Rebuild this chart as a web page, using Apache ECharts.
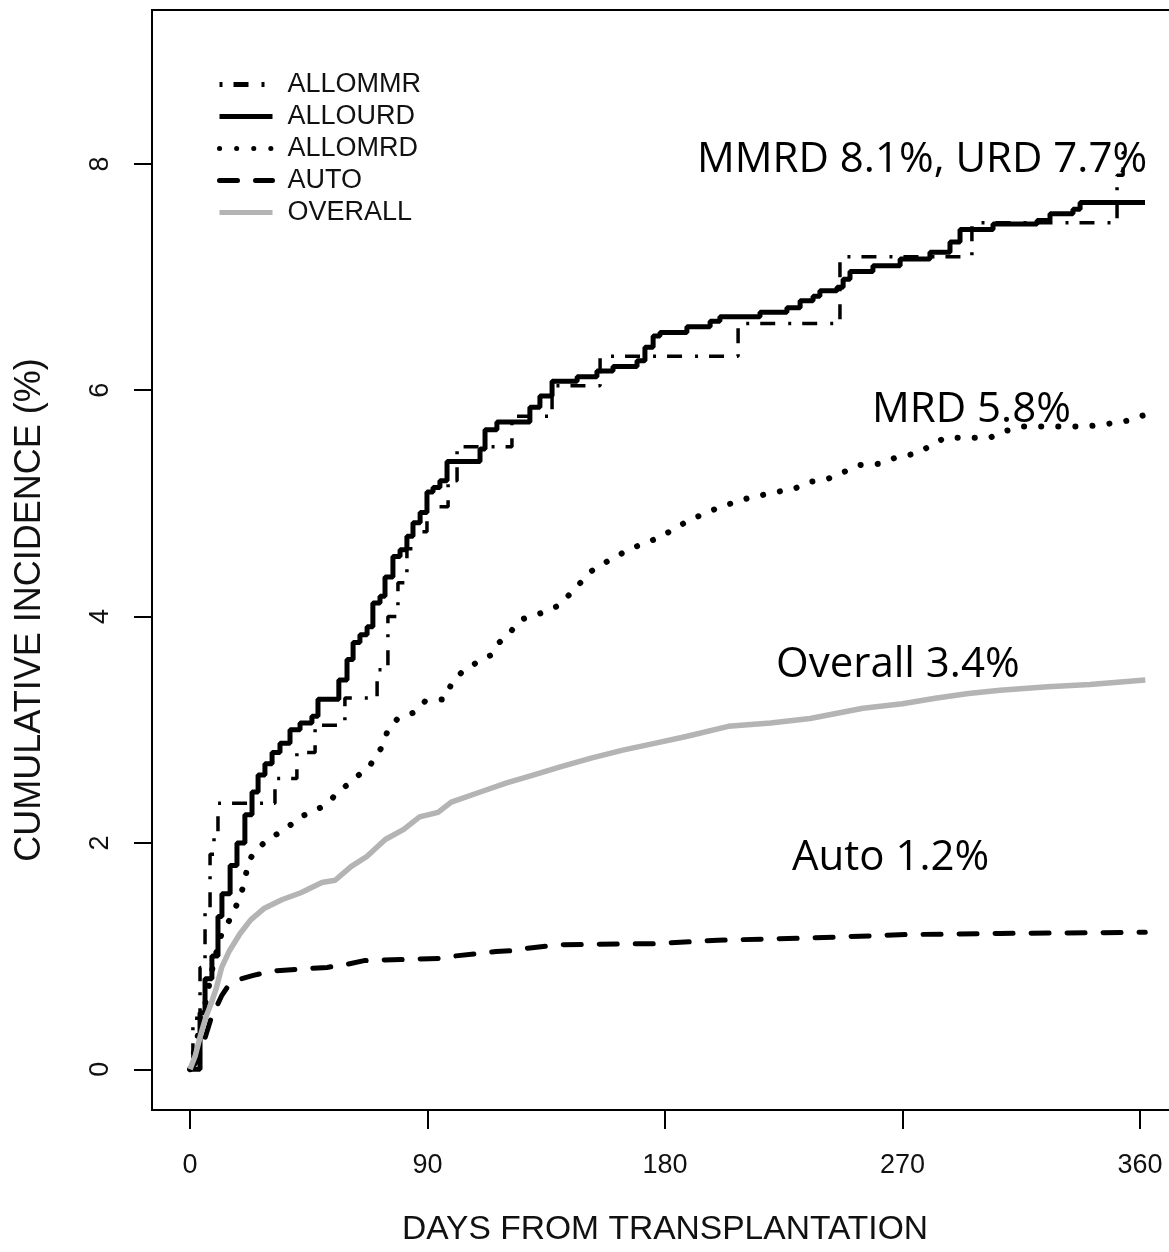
<!DOCTYPE html>
<html>
<head>
    <meta charset="utf-8">
    <title>Cumulative incidence</title>
    <script src="https://cdn.jsdelivr.net/npm/echarts@6/dist/echarts.min.js"></script>
    <style>
        html, body { margin: 0; padding: 0; background: #fff; }
    </style>
</head>
<body>
    <div id="main" style="width: 1169px;height:1252px;"></div>
    <script type="text/javascript">
        // tick positions
        var xTicks = [0, 90, 180, 270, 360];
        var yTicks = [0, 2, 4, 6, 8];

        // ALLOMMR (step)
        var mmrDays = [0, 1.1, 3.8, 5.7, 7.6, 9.1, 10.6, 32.2, 40.5, 47.4, 58.7, 70.9, 75.0, 78.8, 82.2, 84.5, 89.8, 97.8, 101.2, 122.0, 137.2, 155.4, 207.7, 246.3, 296.3, 351.3, 353.6, 356];
        var mmrCI   = [0, 0.45, 0.9, 1.4, 1.9, 2.1, 2.35, 2.57, 2.8, 3.04, 3.28, 3.53, 4.0, 4.3, 4.6, 4.75, 4.97, 5.2, 5.5, 5.77, 6.04, 6.3, 6.59, 7.18, 7.48, 7.9, 8.1, 8.1];

        // ALLOURD (step)
        var urdDays = [0, 3.8, 5.7, 8.3, 10.6, 12.1, 15.2, 17.8, 20.8, 23.5, 25.8, 28.4, 31.1, 34.1, 37.9, 41.7, 46.2, 48.5, 56.4, 59.5, 61.8, 64.4, 67.1, 69.3, 72.0, 73.9, 76.9, 79.6, 82.2, 84.5, 87.2, 89.8, 92.1, 94.7, 97.4, 109.9, 111.8, 116.3, 128.8, 132.6, 137.2, 146.7, 154.2, 160.3, 169.4, 172.4, 175.5, 178.1, 188.3, 197.1, 200.8, 216.0, 226.2, 231.2, 236.1, 238.7, 245.2, 247.5, 250.1, 258.8, 269.1, 280.4, 288.0, 291.8, 304.3, 321.0, 325.9, 334.6, 337.3, 361.9];
        var urdCI   = [0, 0.5, 0.8, 1.0, 1.35, 1.55, 1.8, 2.0, 2.25, 2.45, 2.6, 2.7, 2.8, 2.88, 3.0, 3.06, 3.12, 3.27, 3.44, 3.62, 3.77, 3.84, 3.91, 4.12, 4.18, 4.35, 4.53, 4.59, 4.71, 4.83, 4.92, 5.1, 5.14, 5.2, 5.37, 5.48, 5.65, 5.72, 5.85, 5.95, 6.08, 6.12, 6.17, 6.21, 6.26, 6.38, 6.48, 6.51, 6.56, 6.61, 6.65, 6.69, 6.73, 6.79, 6.83, 6.88, 6.91, 6.98, 7.05, 7.1, 7.16, 7.22, 7.31, 7.42, 7.47, 7.5, 7.56, 7.6, 7.66, 7.66];

        // ALLOMRD
        var mrdDays = [0, 3, 6, 9, 12, 16.5, 20, 22.4, 26, 30.7, 35.6, 41.7, 47, 52.3, 56, 60.6, 64, 67.8, 72.8, 75, 78.4, 85.6, 89, 96.6, 99.3, 103.5, 108.4, 114.1, 117.1, 121, 125, 133, 140, 146, 152, 159, 167, 178, 189, 201, 212, 222, 229, 235, 242, 248, 254, 261, 268, 275, 280, 286, 303, 309, 316, 340, 347, 355, 361.6];
        var mrdCI   = [0, 0.3, 0.6, 0.95, 1.2, 1.38, 1.6, 1.85, 1.96, 2.05, 2.11, 2.23, 2.28, 2.35, 2.45, 2.53, 2.6, 2.67, 2.85, 3.0, 3.09, 3.16, 3.25, 3.27, 3.42, 3.52, 3.59, 3.66, 3.77, 3.85, 3.97, 4.03, 4.1, 4.25, 4.4, 4.5, 4.6, 4.7, 4.85, 4.97, 5.05, 5.1, 5.13, 5.19, 5.22, 5.28, 5.34, 5.35, 5.41, 5.44, 5.5, 5.58, 5.58, 5.64, 5.68, 5.68, 5.7, 5.73, 5.78];

        // AUTO
        var autoDays = [0, 2, 4, 6, 8, 10, 12, 14, 18, 24, 32, 45, 52, 60, 66, 80, 95, 100, 108, 116, 124, 128, 140, 176, 200, 235, 271, 307, 362];
        var autoCI   = [0, 0.05, 0.15, 0.3, 0.45, 0.55, 0.65, 0.72, 0.79, 0.83, 0.87, 0.89, 0.9, 0.93, 0.96, 0.97, 0.98, 1.0, 1.02, 1.04, 1.05, 1.07, 1.1, 1.11, 1.14, 1.16, 1.19, 1.2, 1.21];

        // OVERALL
        var allDays = [0, 2, 4, 6, 8, 10, 12, 15, 19, 23, 28, 35, 42, 50, 55, 61, 67, 74, 81, 87, 94, 99, 110, 120, 130, 140, 152, 164, 176, 188, 204, 220, 235, 255, 270, 283, 295, 307, 325, 341, 362];
        var allCI   = [0, 0.12, 0.3, 0.46, 0.58, 0.72, 0.9, 1.05, 1.2, 1.32, 1.42, 1.5, 1.56, 1.65, 1.67, 1.79, 1.88, 2.03, 2.12, 2.23, 2.27, 2.36, 2.45, 2.53, 2.6, 2.67, 2.75, 2.82, 2.88, 2.94, 3.03, 3.06, 3.1, 3.19, 3.23, 3.28, 3.32, 3.35, 3.38, 3.4, 3.44];

        function zip(xs, ys) {
            return xs.map(function (x, i) { return [x, ys[i]]; });
        }

        var myChart = echarts.init(document.getElementById('main'), null, { renderer: 'canvas' });

        var labelFont = 'Liberation Sans';
        var noteFont = '42px "Open Sans"';

        var option = {
            backgroundColor: '#fff',
            animation: false,
            grid: {
                left: 152,
                top: 10,
                width: 1026,
                height: 1100,
                show: true,
                borderColor: '#000',
                borderWidth: 2,
                containLabel: false,
                outerBoundsMode: 'none'
            },
            legend: {
                orient: 'vertical',
                left: 212,
                top: 66,
                itemWidth: 53,
                itemHeight: 12,
                itemGap: 5,
                data: ['ALLOMMR', 'ALLOURD', 'ALLOMRD', 'AUTO', 'OVERALL'],
                itemStyle: { opacity: 0 },
                lineStyle: { width: 5 },
                textStyle: {
                    fontFamily: labelFont,
                    fontSize: 27,
                    color: '#111',
                    padding: [0, 0, 0, 10]
                }
            },
            xAxis: {
                type: 'value',
                min: -14.4,
                max: 374.4,
                axisLine: { show: false, onZero: false },
                splitLine: { show: false },
                axisTick: {
                    show: true,
                    length: 19,
                    customValues: xTicks,
                    lineStyle: { color: '#000', width: 2 }
                },
                axisLabel: {
                    customValues: xTicks,
                    fontFamily: labelFont,
                    fontSize: 27,
                    color: '#111',
                    margin: 42
                },
                name: 'DAYS FROM TRANSPLANTATION',
                nameLocation: 'middle',
                nameGap: 103,
                nameTextStyle: { fontFamily: labelFont, fontSize: 33.6, color: '#111' }
            },
            yAxis: {
                type: 'value',
                min: -0.36,
                max: 9.36,
                axisLine: { show: false, onZero: false },
                splitLine: { show: false },
                axisTick: {
                    show: true,
                    length: 18,
                    customValues: yTicks,
                    lineStyle: { color: '#000', width: 2 }
                },
                axisLabel: {
                    customValues: yTicks,
                    rotate: 90,
                    fontFamily: labelFont,
                    fontSize: 27,
                    color: '#111',
                    margin: 38
                }
            },
            graphic: [
                {
                    type: 'text', x: 30, y: 610, rotation: Math.PI / 2,
                    style: { text: 'CUMULATIVE INCIDENCE (%)', font: '36px "Liberation Sans"', fill: '#111', align: 'center', verticalAlign: 'middle' }
                },
                {
                    type: 'text', x: 697, y: 160,
                    style: { text: 'MMRD 8.1%, URD 7.7%', font: noteFont, fill: '#000', align: 'left', verticalAlign: 'middle' }
                },
                {
                    type: 'text', x: 872, y: 410,
                    style: { text: 'MRD 5.8%', font: noteFont, fill: '#000', align: 'left', verticalAlign: 'middle' }
                },
                {
                    type: 'text', x: 776, y: 665,
                    style: { text: 'Overall 3.4%', font: noteFont, fill: '#000', align: 'left', verticalAlign: 'middle' }
                },
                {
                    type: 'text', x: 792, y: 858,
                    style: { text: 'Auto 1.2%', font: noteFont, fill: '#000', align: 'left', verticalAlign: 'middle' }
                }
            ],
            series: [
                {
                    name: 'ALLOMMR',
                    type: 'line',
                    step: 'end',
                    symbol: 'none',
                    data: zip(mmrDays, mmrCI),
                    lineStyle: { color: '#000', width: 3.5, type: [3, 11, 15, 13], cap: 'butt' }
                },
                {
                    name: 'ALLOURD',
                    type: 'line',
                    step: 'end',
                    symbol: 'none',
                    data: zip(urdDays, urdCI),
                    lineStyle: { color: '#000', width: 5 }
                },
                {
                    name: 'ALLOMRD',
                    type: 'line',
                    symbol: 'none',
                    data: zip(mrdDays, mrdCI),
                    lineStyle: { color: '#000', width: 6, type: [0.1, 17], cap: 'round' }
                },
                {
                    name: 'AUTO',
                    type: 'line',
                    symbol: 'none',
                    data: zip(autoDays, autoCI),
                    lineStyle: { color: '#000', width: 5, type: [18, 18], cap: 'round' }
                },
                {
                    name: 'OVERALL',
                    type: 'line',
                    symbol: 'none',
                    data: zip(allDays, allCI),
                    lineStyle: { color: '#b4b4b4', width: 5.5 }
                }
            ]
        };

        myChart.setOption(option);
    </script>
</body>
</html>
